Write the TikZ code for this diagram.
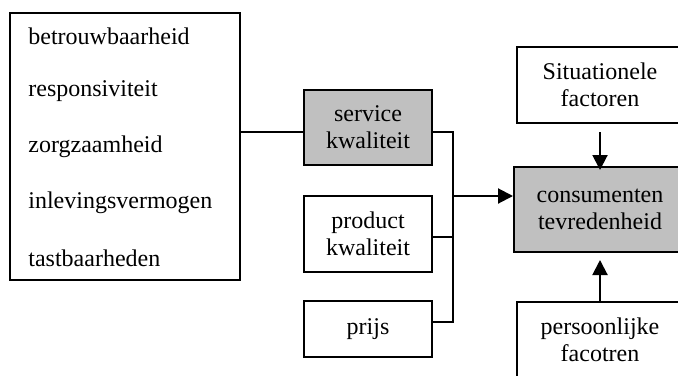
\documentclass[tikz,border=0pt]{standalone}
\usepackage{fontspec}
\setmainfont{Liberation Serif}
\usepackage{xcolor}
\usetikzlibrary{positioning,arrows.meta,calc}

\definecolor{boxgray}{HTML}{C0C0C0}

\tikzset{
    box/.style={draw, line width=1pt, align=center, inner sep=0pt,
        font=\fontsize{12}{13.5}\selectfont},
    grey/.style={box, fill=boxgray},
    arr/.style={line width=1pt, -{Triangle[length=7.5pt,width=7.5pt]}},
    wire/.style={line width=1pt}
}

\begin{document}
\begin{tikzpicture}[x=0.5pt, y=-0.5pt]
    \clip (0,0) rectangle (678,375);

    % dimensions of service quality
    \node[box, minimum width=115pt, minimum height=133.5pt] (dims) at (125,146.5) {};
    \foreach \t [count=\i] in {betrouwbaarheid,responsiviteit,zorgzaamheid,inlevingsvermogen,tastbaarheden} {
        \node[anchor=west, inner sep=0pt, font=\fontsize{12}{13.5}\selectfont] (dim\i) at (28,{36+(\i-1)*55.5}) {\t};
    }

    % middle column
    \node[grey, minimum width=64pt, minimum height=37.5pt] (service) at (368,127.5) {service\\kwaliteit};
    \node[box, minimum width=64pt, minimum height=38pt] (product) at (368,234) {product\\kwaliteit};
    \node[box, minimum width=64pt, minimum height=28pt] (prijs) at (368,329) {prijs};

    % right column
    \node[grey, minimum width=86pt, minimum height=42.5pt] (tevreden) at (600,209.5) {consumenten\\tevredenheid};
    \node[box, minimum width=83pt, minimum height=38pt] (situatie) at (600,85) {Situationele\\factoren};
    \node[box, minimum width=83pt, minimum height=38pt] (persoon) at (600,340) {persoonlijke\\facotren};

    % connectors
    \coordinate (bus) at (453,196);
    \draw[wire] ([yshift=-2.25pt]service.west) -- ([yshift=-2.25pt]service.west -| dims.east);
    \draw[wire] ([yshift=-2.25pt]service.east) -| (bus);
    \draw[wire] ([yshift=-1.5pt]product.east) -| (bus);
    \draw[wire] ([yshift=3.5pt]prijs.east) -| (bus);
    \draw[arr] (bus) -- (bus -| tevreden.west);
    \draw[arr, shorten <=4pt, shorten >=-2pt] (situatie) -- (tevreden);
    \draw[arr, shorten >=3.5pt] (persoon.north) -- (tevreden.south);
\end{tikzpicture}
\end{document}
